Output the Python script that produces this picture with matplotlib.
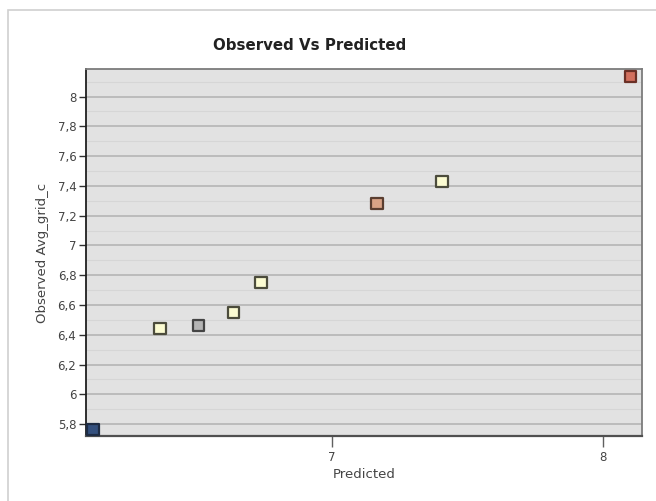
import numpy as np
import matplotlib
matplotlib.use("Agg")
from matplotlib import pyplot as plt
from matplotlib.ticker import FuncFormatter, MultipleLocator
from matplotlib.patches import Rectangle

matplotlib.rcParams['font.family'] = 'DejaVu Sans'

predicted = [6.118, 6.365, 6.507, 6.635, 6.738, 7.166, 7.406, 8.10]
observed = [5.766, 6.44, 6.46, 6.55, 6.75, 7.28, 7.43, 8.135]
fill_colors = ['#34507e', '#fcfcd2', '#b4b4b4', '#fcfcd2', '#fcfcd2',
               '#d9a386', '#fcfcd2', '#d2705e']
edge_colors = ['#1e2c44', '#4c4c3c', '#444444', '#4c4c3c', '#4c4c3c',
               '#5a3e30', '#4c4c3c', '#6a3026']

x_ticks = [7, 8]
y_ticks = [5.8, 6.0, 6.2, 6.4, 6.6, 6.8, 7.0, 7.2, 7.4, 7.6, 7.8, 8.0]

fig = plt.figure(figsize=(6.56, 5.01), dpi=100)
fig.patches.append(Rectangle((8 / 656, -0.02), 1.0, 1 - 10 / 501 + 0.02,
                             transform=fig.transFigure, facecolor='white',
                             edgecolor='#d0d0d0', linewidth=1.2, zorder=-10))

ax = fig.add_axes([86 / 656, 1 - 436 / 501, (642 - 86) / 656, (436 - 69) / 501])
ax.set_facecolor('#e2e2e2')

ax.set_xlim(6.092, 8.144)
ax.set_ylim(5.72, 8.185)

ax.yaxis.set_major_locator(MultipleLocator(0.2))
ax.yaxis.set_minor_locator(MultipleLocator(0.1))
ax.set_yticks(y_ticks)
ax.set_xticks(x_ticks)

def comma_fmt(v, pos):
    s = ('%.1f' % v).rstrip('0').rstrip('.')
    return s.replace('.', ',')

ax.yaxis.set_major_formatter(FuncFormatter(comma_fmt))
ax.xaxis.set_major_formatter(FuncFormatter(comma_fmt))

ax.grid(axis='y', which='major', color='#b8b8b8', linewidth=1.3)
ax.grid(axis='y', which='minor', color='#d6d6d6', linewidth=0.8)
ax.set_axisbelow(True)

for side in ['top', 'right']:
    ax.spines[side].set_color('#7c7c7c')
    ax.spines[side].set_linewidth(1.3)
ax.spines['left'].set_color('#202020')
ax.spines['bottom'].set_color('#505050')
ax.spines['left'].set_linewidth(1.3)
ax.spines['bottom'].set_linewidth(1.6)

ax.tick_params(axis='y', which='major', direction='out', length=5, width=1,
               color='#303030', labelsize=8.5, labelcolor='#444444', pad=2)
ax.tick_params(axis='y', which='minor', length=0)
ax.tick_params(axis='x', direction='out', length=8, width=1,
               color='#606060', labelsize=8.5, labelcolor='#444444', pad=3)

ax.scatter(predicted, observed, marker='s', s=64, c=fill_colors,
           edgecolors=edge_colors, linewidths=1.6, zorder=3, clip_on=False)

ax.set_xlabel('Predicted', fontsize=9.5, color='#444444', labelpad=3)
ax.set_ylabel('Observed Avg_grid_c', fontsize=9.5, color='#444444', labelpad=6)

fig.text(310 / 656, 1 - 45 / 501, 'Observed Vs Predicted', ha='center',
         va='center', fontsize=10.8, fontweight='bold', color='#222222')

fig.savefig('out.png', dpi=100)
